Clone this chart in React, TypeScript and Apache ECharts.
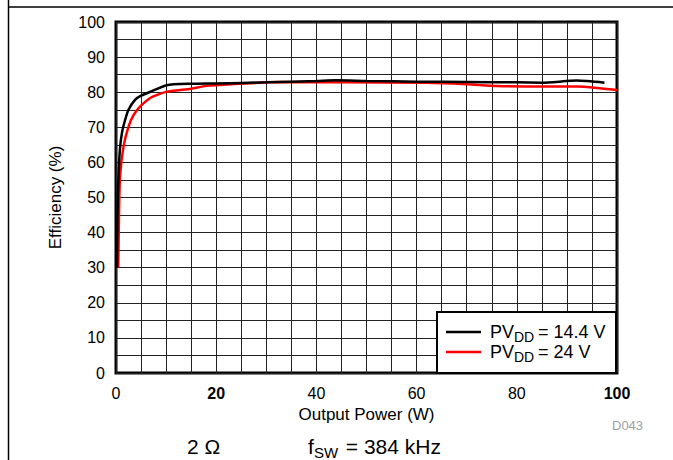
import React, { useEffect, useRef } from "react";
import * as echarts from "echarts";

const xTicks = [0, 20, 40, 60, 80, 100];
const yTicks = [0, 10, 20, 30, 40, 50, 60, 70, 80, 90, 100];

const series144: [number, number][] = [
  [0.2, 30], [0.3, 45], [0.5, 56], [0.8, 64], [1.2, 68.5], [1.8, 72], [2.5, 75],
  [3.8, 77.8], [5, 79], [7, 80.2], [10.1, 82], [15, 82.4], [20, 82.5], [30, 82.8],
  [40, 83.2], [44, 83.4], [50, 83.2], [60, 83], [70, 82.9], [80, 82.8], [85, 82.7],
  [92, 83.3], [97.5, 82.7],
];

const series24: [number, number][] = [
  [0.45, 30], [0.6, 45], [0.8, 56], [1.5, 64.5], [2.5, 70.2], [3.5, 73.5], [4.8, 75.9],
  [7, 78.5], [10, 80.1], [15, 81], [18, 81.8], [23, 82.3], [33, 82.9], [45, 82.8],
  [62, 82.7], [70, 82.3], [76, 81.8], [85, 81.6], [92, 81.6], [96, 81.2], [100, 80.6],
];

const legendRows = [
  { main: "PV", sub: "DD", rest: " = 14.4 V", color: "#000000" },
  { main: "PV", sub: "DD", rest: " = 24 V", color: "#ff0000" },
];

const FONT = "'Liberation Sans', Arial, sans-serif";

export default function App() {
  const ref = useRef<HTMLDivElement>(null);
  useEffect(() => {
    if (!ref.current) return;
    const chart = echarts.init(ref.current, undefined, { renderer: "svg" });
    const txt = (x: number, y: number, text: string, size: number, extra: any = {}) => ({
      type: "text",
      x,
      y,
      z: 100,
      style: {
        text,
        fontSize: size,
        fontFamily: FONT,
        fill: "#000",
        textAlign: "left",
        textVerticalAlign: "middle",
        ...extra,
      },
    });
    const legendGraphics: any[] = [
      {
        type: "rect",
        z: 99,
        shape: { x: 437, y: 312, width: 179, height: 61 },
        style: { fill: "#fff", stroke: "#000", lineWidth: 2 },
      },
    ];
    legendRows.forEach((r, i) => {
      const cy = 332 + i * 20;
      legendGraphics.push({
        type: "line",
        z: 100,
        shape: { x1: 446, y1: cy, x2: 481, y2: cy },
        style: { stroke: r.color, lineWidth: 2.5 },
      });
      legendGraphics.push(txt(490, cy, r.main, 18));
      legendGraphics.push(txt(514, cy + 5, r.sub, 14));
      legendGraphics.push(txt(533, cy, r.rest, 18));
    });

    chart.setOption({
      animation: false,
      backgroundColor: "#fff",
      grid: {
        left: 116,
        right: 56,
        top: 22,
        bottom: 87,
        show: true,
        borderColor: "#000",
        borderWidth: 3,
        backgroundColor: "transparent",
      },
      xAxis: {
        type: "value",
        min: 0,
        max: 100,
        interval: 5,
        name: "Output Power (W)",
        nameLocation: "middle",
        nameGap: 31,
        nameTextStyle: { fontSize: 17, fontFamily: FONT, color: "#000" },
        axisLine: { show: false },
        axisTick: { show: false },
        splitLine: { show: true, lineStyle: { color: "#222", width: 1 } },
        axisLabel: {
          margin: 12,
          fontSize: 16,
          fontFamily: FONT,
          color: "#000",
          formatter: (v: number) => {
            if (!xTicks.includes(v)) return "";
            return v === 20 || v === 100 ? `{b|${v}}` : `${v}`;
          },
          rich: {
            b: { fontSize: 16, fontFamily: FONT, color: "#000", fontWeight: "bold" },
          },
        },
      },
      yAxis: {
        type: "value",
        min: 0,
        max: 100,
        interval: 5,
        name: "Efficiency (%)",
        nameLocation: "middle",
        nameGap: 52,
        nameTextStyle: { fontSize: 17, fontFamily: FONT, color: "#000" },
        axisLine: { show: false },
        axisTick: { show: false },
        splitLine: { show: true, lineStyle: { color: "#222", width: 1 } },
        axisLabel: {
          margin: 11,
          fontSize: 16,
          fontFamily: FONT,
          color: "#000",
          formatter: (v: number) => (yTicks.includes(v) ? `${v}` : ""),
        },
      },
      series: [
        {
          type: "line",
          data: series144,
          showSymbol: false,
          smooth: 0.2,
          lineStyle: { color: "#000", width: 2.5 },
          z: 3,
        },
        {
          type: "line",
          data: series24,
          showSymbol: false,
          smooth: 0.2,
          lineStyle: { color: "#ff0000", width: 2.5 },
          z: 2,
        },
      ],
      graphic: [
        {
          type: "line",
          shape: { x1: 8, y1: 7, x2: 673, y2: 7 },
          style: { stroke: "#000", lineWidth: 1.5 },
        },
        {
          type: "line",
          shape: { x1: 8.5, y1: 0, x2: 8.5, y2: 460 },
          style: { stroke: "#000", lineWidth: 1.5 },
        },
        ...legendGraphics,
        txt(612, 425, "D043", 13, { fill: "#a0a0a0" }),
        txt(187, 446, "2 Ω", 21),
        txt(308, 446, "f", 21),
        txt(314, 452, "SW", 15),
        txt(340, 446, " = 384 kHz", 21),
      ],
    });
    return () => chart.dispose();
  }, []);
  return (
    <div
      ref={ref}
      style={{ position: "fixed", left: 0, top: 0, width: 673, height: 460 }}
    />
  );
}
